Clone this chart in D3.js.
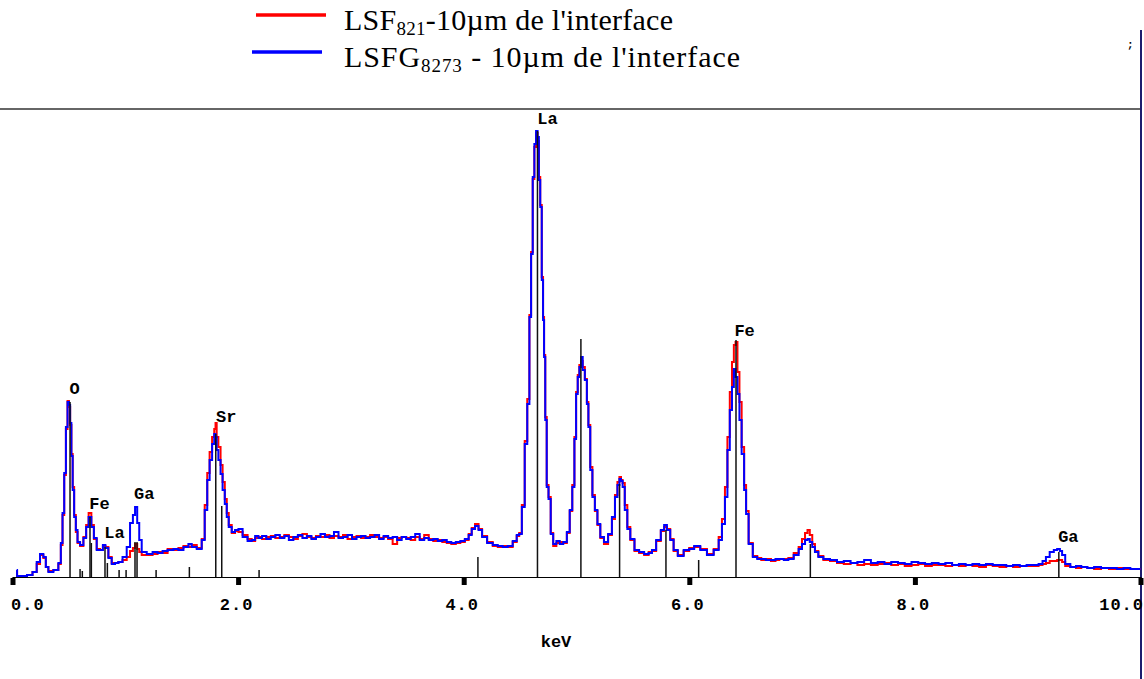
<!DOCTYPE html>
<html><head><meta charset="utf-8">
<script src="https://cdn.jsdelivr.net/npm/d3@7/dist/d3.min.js"></script>
<style>body{margin:0;background:#fff;} svg{display:block;}</style>
</head><body>
<svg id="chart" width="1144" height="679"></svg>
<script>
// ---- data ----
const energyKeV = [
0.037,0.044,0.102,0.155,0.200,0.229,0.259,0.288,0.303,0.333,
0.392,0.421,0.436,0.451,0.466,0.481,0.495,0.506,0.516,0.528,
0.539,0.554,0.569,0.584,0.614,0.643,0.663,0.687,0.711,0.732,
0.761,0.791,0.812,0.835,0.865,0.894,0.924,0.953,0.998,1.027,
1.057,1.078,1.095,1.116,1.131,1.160,1.220,1.264,1.308,1.353,
1.397,1.456,1.486,1.545,1.574,1.604,1.663,1.692,1.716,1.737,
1.758,1.781,1.796,1.804,1.816,1.834,1.855,1.870,1.894,1.905,
1.929,1.958,1.988,2.018,2.062,2.106,2.136,2.166,2.195,2.23,
2.27,2.31,2.35,2.39,2.43,2.47,2.51,2.55,2.59,2.63,
2.67,2.71,2.75,2.79,2.83,2.87,2.91,2.95,2.99,3.03,
3.07,3.11,3.15,3.19,3.23,3.27,3.31,3.35,3.39,3.43,
3.47,3.51,3.55,3.59,3.63,3.67,3.71,3.75,3.79,3.83,
3.87,3.91,3.95,3.99,4.03,4.058,4.084,4.117,4.146,4.18,
4.235,4.28,4.324,4.368,4.412,4.457,4.483,4.501,4.530,4.552,
4.575,4.590,4.605,4.619,4.634,4.649,4.661,4.672,4.685,4.699,
4.708,4.717,4.729,4.743,4.761,4.782,4.805,4.838,4.865,4.900,
4.929,4.951,4.974,4.989,5.004,5.018,5.033,5.048,5.062,5.086,
5.098,5.113,5.131,5.151,5.175,5.196,5.226,5.261,5.299,5.329,
5.353,5.373,5.388,5.401,5.417,5.439,5.462,5.492,5.536,5.574,
5.625,5.654,5.684,5.728,5.767,5.787,5.816,5.846,5.876,5.920,
5.980,6.018,6.068,6.127,6.186,6.246,6.275,6.304,6.328,6.348,
6.370,6.387,6.403,6.417,6.437,6.452,6.476,6.496,6.511,6.541,
6.585,6.62,6.656,6.70,6.748,6.78,6.816,6.86,6.896,6.955,
6.984,7.014,7.038,7.058,7.078,7.102,7.126,7.162,7.215,7.280,
7.339,7.40,7.46,7.52,7.58,7.64,7.70,7.76,7.82,7.88,
7.94,8.00,8.06,8.12,8.18,8.24,8.30,8.36,8.42,8.48,
8.54,8.60,8.66,8.72,8.78,8.84,8.90,8.96,9.02,9.08,
9.113,9.15,9.173,9.217,9.246,9.276,9.295,9.315,9.350,9.406,
9.45,9.50,9.557,9.62,9.68,9.761,9.82,9.88,9.94,10.0
];
// LSFG8273 (blue)
const countsLSFG8273 = [
7,1,1,2,5,15,23,20,10,5,
7,14,34,64,104,150,175,172,154,121,
87,60,47,35,32,39,50,60,50,39,
27,27,32,29,19,13,14,15,20,30,
54,62,70,54,37,25,23,25,24,26,
27,28,27,30,33,30,28,37,67,97,
117,133,143,140,127,117,103,87,73,60,
50,45,47,48,40,36,37,41,39,41,
38,40,42,39,41,37,40,42,39,41,
38,40,43,40,41,45,39,40,42,38,
40,41,39,40,42,38,41,39,40,37,
40,38,40,43,37,39,37,38,36,37,
35,34,35,36,38,42,48,51,47,40,
34,32,31,30,31,36,42,43,70,133,
173,260,323,400,433,446,440,397,370,297,
257,220,157,90,78,43,33,36,33,35,
45,67,90,138,183,200,210,220,207,197,
173,150,107,80,67,53,40,35,43,60,
80,92,98,96,90,67,48,38,27,25,
23,24,27,37,47,52,47,37,27,21,
27,28,31,27,22,27,37,53,80,127,
167,190,208,200,183,157,123,87,63,33,
20,18,18,17,17,18,18,17,18,22,
28,33,37,38,35,30,25,20,18,17,
15,16,14,15,17,14,15,13,15,14,
13,15,14,13,14,13,14,12,13,12,
13,12,13,12,12,11,12,11,12,12,
13,16,20,25,27,28,26,22,13,10,
11,10,9,10,9,9,8,9,8,8
];
// LSF821 (red)
const countsLSF821 = [
6,1,1,2,5,13,22,19,10,6,
7,13,32,62,102,148,176,170,152,123,
90,62,45,34,31,40,52,64,52,38,
28,27,31,30,20,14,14,15,17,20,
26,29,33,28,25,22,22,23,25,24,
28,27,29,31,30,32,29,38,72,104,
125,140,148,154,140,130,112,95,78,64,
52,44,46,45,42,38,36,39,40,38,
40,41,39,40,42,40,38,41,43,40,
39,41,40,42,39,41,40,42,38,40,
41,39,40,42,40,39,40,38,33,39,
40,39,37,40,38,42,38,36,37,35,
34,33,34,35,37,43,49,53,48,41,
35,31,30,31,30,35,41,44,72,136,
178,262,325,398,430,444,436,400,372,300,
260,222,160,92,80,44,31,34,35,34,
44,66,92,140,185,202,212,216,210,198,
175,152,110,82,66,52,39,33,42,58,
82,95,100,97,94,72,50,37,26,24,
22,25,26,36,46,50,48,38,26,22,
26,29,30,28,23,28,40,58,90,140,
185,215,232,235,205,175,130,92,66,34,
21,19,17,18,16,17,18,18,19,24,
30,38,44,47,42,33,26,21,17,16,
14,13,14,12,13,12,13,14,12,13,
11,12,13,11,12,12,11,12,11,12,
11,10,12,11,10,11,10,11,11,11,
12,13,14,16,16,17,17,15,11,10,
9,10,9,8,9,8,9,8,8,8
];
const markerKeV    = [0.510,0.599,0.619,0.687,0.699,0.820,0.841,0.945,1.007,1.086,1.104,1.273,1.568,1.802,1.855,2.186,4.126,4.654,5.039,5.382,5.793,6.083,6.414,7.073,9.276];
const markerCounts = [175,8,6,60,34,30,14,7,7,35,35,7,10,143,71,7,20,446,238,93,47,17,237,33,25];
const peakLabels      = ["O","Fe","La","Ga","Sr","La","Fe","Ga"];
const peakLabelKeV    = [0.505,0.681,0.814,1.078,1.805,4.652,6.400,9.270];
const peakLabelCounts = [183,68,39,78,155,453,241,35];
const tickValues = [0,2,4,6,8,10];
const tickLabels = ["0.0","2.0","4.0","6.0","8.0","10.0"];
const axisTitle = "keV";

// ---- scales ----
const svg = d3.select("#chart");
const x = d3.scaleLinear().domain([0,10]).range([12.5,1140.5]);
const y = d3.scaleLinear().domain([0,468]).range([577,109]);

// frame lines
svg.append("line").attr("x1",0).attr("x2",1140).attr("y1",109).attr("y2",109)
  .attr("stroke","#333").attr("stroke-width",1.5);
svg.append("line").attr("x1",1141).attr("x2",1141).attr("y1",30).attr("y2",679)
  .attr("stroke","#1c1c6e").attr("stroke-width",2);
svg.append("text").attr("x",1127).attr("y",48).text(";")
  .attr("font-family","Liberation Mono").attr("font-weight","bold").attr("font-size",11).attr("fill","#000");

// spectra
const n = Math.min(energyKeV.length, countsLSF821.length, countsLSFG8273.length);
const idx = d3.range(n);
const lineGen = arr => d3.line().x(i=>x(energyKeV[i])).y(i=>y(arr[i])).curve(d3.curveStep);
svg.append("path").attr("d", lineGen(countsLSF821)(idx))
  .attr("fill","none").attr("stroke","#ff0000").attr("stroke-width",2);
svg.append("path").attr("d", lineGen(countsLSFG8273)(idx))
  .attr("fill","none").attr("stroke","#0000ff").attr("stroke-width",2);

// element markers
svg.append("g").selectAll("line").data(markerKeV).join("line")
  .attr("x1",d=>x(d)).attr("x2",d=>x(d))
  .attr("y1",y(0)).attr("y2",(d,i)=>y(markerCounts[i]))
  .attr("stroke","#111").attr("stroke-width",1.5);

// peak labels
svg.append("g").selectAll("text").data(peakLabels).join("text")
  .attr("x",(d,i)=>x(peakLabelKeV[i])).attr("y",(d,i)=>y(peakLabelCounts[i]))
  .text(d=>d)
  .attr("font-family","Liberation Mono").attr("font-weight","bold").attr("font-size",17).attr("fill","#000");

// x axis
const axis = d3.axisBottom(x).tickValues(tickValues).tickFormat((d,i)=>tickLabels[i]).tickSizeOuter(0).tickSize(8).tickPadding(13);
const gx = svg.append("g").attr("transform","translate(0,"+y(0)+")").call(axis);
gx.select(".domain").attr("stroke","#000").attr("stroke-width",1.2);
gx.selectAll(".tick line").attr("stroke","#000").attr("stroke-width",5).attr("y1",1);
const lastTick = tickValues.length - 1;
gx.selectAll(".tick text")
  .attr("font-family","Liberation Mono").attr("font-weight","bold").attr("font-size",17)
  .attr("letter-spacing","1px").attr("fill","#000")
  .attr("text-anchor",(d,i)=> i===0 ? "start" : (i===lastTick ? "end" : "middle"))
  .attr("x",(d,i)=> i===0 ? -2 : (i===lastTick ? 3 : -2));
svg.append("text").attr("x",556).attr("y",647).attr("text-anchor","middle").text(axisTitle)
  .attr("font-family","Liberation Mono").attr("font-weight","bold").attr("font-size",17).attr("fill","#000");

// legend
const legendNames = [["LSF","821","-10\u00B5m de l'interface"],["LSFG","8273"," - 10\u00B5m de l'interface"]];
const legendColors = ["#ff0000","#0000ff"];
const legendWidths = [329,396];
const lg = svg.append("g");
legendNames.forEach((nm,i)=>{
  const yy = i===0 ? 15 : 52;
  const x0 = i===0 ? 256 : 252;
  lg.append("line").attr("x1",x0).attr("x2",x0+70).attr("y1",yy).attr("y2",yy)
    .attr("stroke",legendColors[i]).attr("stroke-width",3.5);
  const t = lg.append("text").attr("x",344).attr("y",yy+15)
    .attr("font-family","Liberation Serif").attr("font-size",30).attr("fill","#000")
    .attr("textLength",legendWidths[i]).attr("lengthAdjust","spacing");
  t.append("tspan").text(nm[0]);
  t.append("tspan").attr("font-size",19).attr("dy",5).text(nm[1]);
  t.append("tspan").attr("dy",-5).text(nm[2]);
});
</script>
</body></html>
